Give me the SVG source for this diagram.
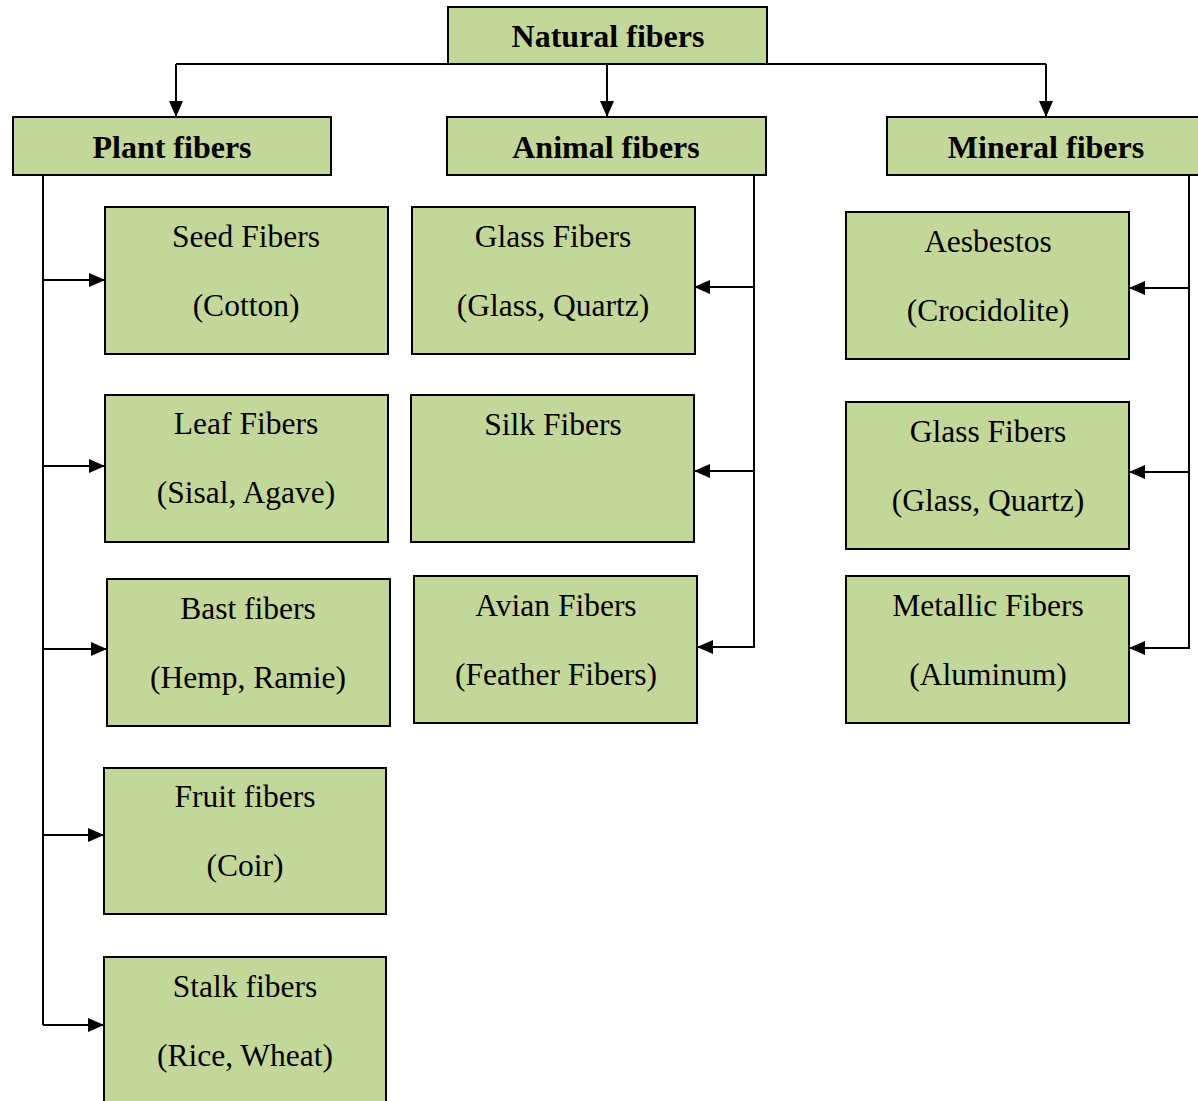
<svg xmlns="http://www.w3.org/2000/svg" width="1198" height="1101" viewBox="0 0 1198 1101">
<style>
.box{fill:#C4D79B;stroke:#000;stroke-width:2}
.h{font-family:"Liberation Serif",serif;font-weight:bold;font-size:32px;text-anchor:middle;fill:#000}
.t{font-family:"Liberation Serif",serif;font-size:31.5px;text-anchor:middle;fill:#000}
.c{fill:none;stroke:#000;stroke-width:2}
</style>
<defs>
<marker id="ah" viewBox="0 0 16 14" refX="16" refY="7" markerWidth="16" markerHeight="14" markerUnits="userSpaceOnUse" orient="auto">
<path d="M0,0 L16,7 L0,14 Z" fill="#000"/>
</marker>
</defs>
<rect width="1198" height="1101" fill="#fff"/>
<g id="connectors">
<path class="c" d="M176,64 H1046"/>
<path class="c" d="M176,64 V117" marker-end="url(#ah)"/>
<path class="c" d="M607,64 V117" marker-end="url(#ah)"/>
<path class="c" d="M1046,64 V117" marker-end="url(#ah)"/>
<path class="c" d="M43,175 V1025"/>
<path class="c" d="M43,280 H105" marker-end="url(#ah)"/>
<path class="c" d="M43,466 H105" marker-end="url(#ah)"/>
<path class="c" d="M43,649 H107" marker-end="url(#ah)"/>
<path class="c" d="M43,835 H104" marker-end="url(#ah)"/>
<path class="c" d="M43,1025 H104" marker-end="url(#ah)"/>
<path class="c" d="M754,175 V648"/>
<path class="c" d="M754,287 H694" marker-end="url(#ah)"/>
<path class="c" d="M754,471 H694" marker-end="url(#ah)"/>
<path class="c" d="M754,647 H697" marker-end="url(#ah)"/>
<path class="c" d="M1189,175 V649"/>
<path class="c" d="M1189,288 H1129" marker-end="url(#ah)"/>
<path class="c" d="M1189,472 H1129" marker-end="url(#ah)"/>
<path class="c" d="M1189,648 H1129" marker-end="url(#ah)"/>
</g>
<g id="natural"><rect class="box" x="448" y="7" width="319" height="57"/><text class="h" x="608" y="47">Natural fibers</text></g>
<g id="plant"><rect class="box" x="13" y="117" width="318" height="58"/><text class="h" x="172" y="158">Plant fibers</text></g>
<g id="animal"><rect class="box" x="447" y="117" width="319" height="58"/><text class="h" x="606" y="158">Animal fibers</text></g>
<g id="mineral"><rect class="box" x="887" y="117" width="320" height="58"/><text class="h" x="1046" y="158">Mineral fibers</text></g>
<g id="seed"><rect class="box" x="105" y="207" width="283" height="147"/><text class="t" x="246" y="247">Seed Fibers</text><text class="t" x="246" y="316">(Cotton)</text></g>
<g id="leaf"><rect class="box" x="105" y="395" width="283" height="147"/><text class="t" x="246" y="434">Leaf Fibers</text><text class="t" x="246" y="503">(Sisal, Agave)</text></g>
<g id="bast"><rect class="box" x="107" y="579" width="283" height="147"/><text class="t" x="248" y="619">Bast fibers</text><text class="t" x="248" y="688">(Hemp, Ramie)</text></g>
<g id="fruit"><rect class="box" x="104" y="768" width="282" height="146"/><text class="t" x="245" y="807">Fruit fibers</text><text class="t" x="245" y="876">(Coir)</text></g>
<g id="stalk"><rect class="box" x="104" y="957" width="282" height="160"/><text class="t" x="245" y="997">Stalk fibers</text><text class="t" x="245" y="1066">(Rice, Wheat)</text></g>
<g id="glass-a"><rect class="box" x="412" y="207" width="283" height="147"/><text class="t" x="553" y="247">Glass Fibers</text><text class="t" x="553" y="316">(Glass, Quartz)</text></g>
<g id="silk"><rect class="box" x="411" y="395" width="283" height="147"/><text class="t" x="553" y="435">Silk Fibers</text></g>
<g id="avian"><rect class="box" x="414" y="576" width="283" height="147"/><text class="t" x="556" y="616">Avian Fibers</text><text class="t" x="556" y="685">(Feather Fibers)</text></g>
<g id="aesbestos"><rect class="box" x="846" y="212" width="283" height="147"/><text class="t" x="988" y="252">Aesbestos</text><text class="t" x="988" y="321">(Crocidolite)</text></g>
<g id="glass-m"><rect class="box" x="846" y="402" width="283" height="147"/><text class="t" x="988" y="442">Glass Fibers</text><text class="t" x="988" y="511">(Glass, Quartz)</text></g>
<g id="metallic"><rect class="box" x="846" y="576" width="283" height="147"/><text class="t" x="988" y="616">Metallic Fibers</text><text class="t" x="988" y="685">(Aluminum)</text></g>
</svg>
